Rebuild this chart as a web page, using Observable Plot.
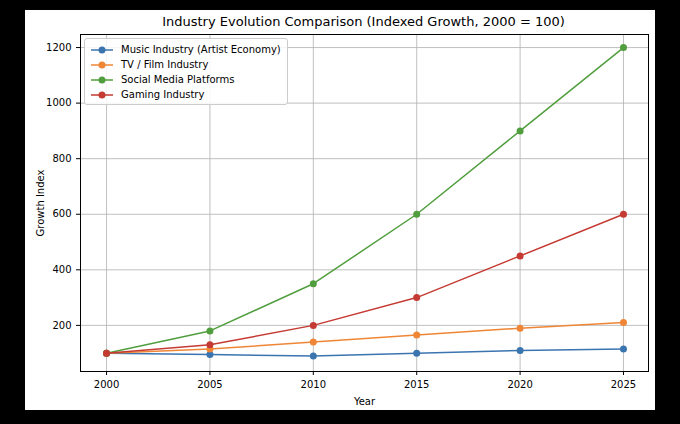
<!DOCTYPE html>
<html><head><meta charset="utf-8">
<script src="https://cdn.jsdelivr.net/npm/d3@7"></script>
<script src="https://cdn.jsdelivr.net/npm/@observablehq/plot@0.6"></script>
<style>
body{margin:0;background:#000;width:680px;height:424px;overflow:hidden;font-family:"DejaVu Sans",sans-serif}
#panel{position:absolute;left:25px;top:10px;width:630px;height:400px;background:#fff}
#title{position:absolute;left:55px;width:567px;top:4px;text-align:center;font-size:13px;color:#000}
#legend{position:absolute;left:59px;top:28px;border:1px solid #ccc;border-radius:3px;background:rgba(255,255,255,0.85);padding:3px 6px 2px 6px;font-size:10px}
.it{display:flex;align-items:center;height:15px}
.it svg{margin-right:8px}
</style></head><body>
<div id="panel"><div id="chart"></div><div id="title">Industry Evolution Comparison (Indexed Growth, 2000 = 100)</div><div id="legend"></div></div>
<script>
const years=[2000,2005,2010,2015,2020,2025];
const seriesNames=["Music Industry (Artist Economy)","TV / Film Industry","Social Media Platforms","Gaming Industry"];
const colors=["#3b75af","#ef8636","#519e3e","#c53a32"];
const music=[100,95,90,100,110,115];
const tv=[100,115,140,165,190,210];
const social=[100,180,350,600,900,1200];
const gaming=[100,130,200,300,450,600];
const yTicks=[200,400,600,800,1000,1200];
const all=[music,tv,social,gaming];
const data=[];
all.forEach((s,i)=>s.forEach((v,j)=>data.push({series:seriesNames[i],year:years[j],value:v})));
const plot=Plot.plot({
  width:630,height:400,marginLeft:55,marginRight:7,marginTop:24,marginBottom:39,
  style:{fontFamily:"DejaVu Sans",fontSize:"10px",color:"#000"},
  x:{domain:[1998.74,2026.21]},
  y:{domain:[34,1247]},
  color:{domain:seriesNames,range:colors},
  marks:[
    Plot.gridX(years,{stroke:"#b0b0b0",strokeOpacity:1,strokeWidth:0.8}),
    Plot.gridY(yTicks,{stroke:"#b0b0b0",strokeOpacity:1,strokeWidth:0.8}),
    Plot.frame({stroke:"#000"}),
    Plot.axisX({ticks:years,tickFormat:d=>String(d),tickSize:4,label:"Year",labelAnchor:"center",labelArrow:"none",labelOffset:33}),
    Plot.axisY({ticks:yTicks,tickFormat:d=>String(d),tickSize:4,label:"Growth Index",labelAnchor:"center",labelArrow:"none",labelOffset:44}),
    Plot.line(data,{x:"year",y:"value",stroke:"series",strokeWidth:1.5}),
    Plot.dot(data,{x:"year",y:"value",fill:"series",r:3.5})
  ]
});
document.getElementById("chart").appendChild(plot);
const lg=document.getElementById("legend");
seriesNames.forEach((n,i)=>{
  const d=document.createElement("div");d.className="it";
  d.innerHTML=`<svg width="22" height="10"><line x1="0" y1="5" x2="22" y2="5" stroke="${colors[i]}" stroke-width="1.5"/><circle cx="11" cy="5" r="3.5" fill="${colors[i]}"/></svg>${n}`;
  lg.appendChild(d);
});
</script></body></html>
